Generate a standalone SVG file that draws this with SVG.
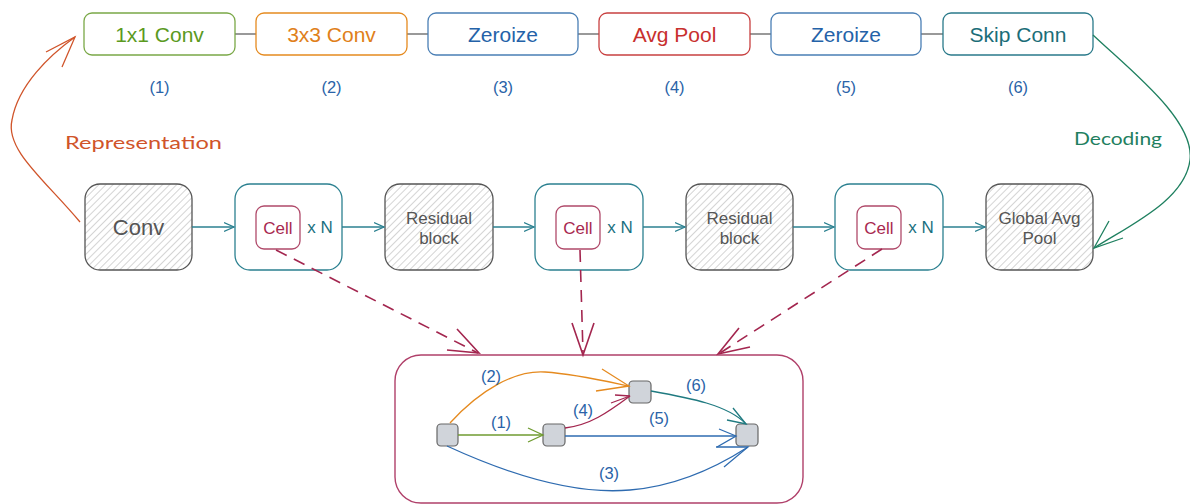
<svg xmlns="http://www.w3.org/2000/svg" width="1190" height="504" viewBox="0 0 1190 504">
  <style>
    text { font-family: "Liberation Sans", Arial, sans-serif; text-anchor: middle; dominant-baseline: central; }
    .op { fill: #fff; stroke-width: 1.3; }
    .op-text { font-size: 21px; }
    .idx { font-size: 16.5px; fill: #2a63a8; }
    .hatched { fill: url(#hatch); stroke: #555; stroke-width: 1.3; }
    .gray-text { fill: #555; }
    .stack { fill: #fff; stroke: #2b8090; stroke-width: 1.3; }
    .cell { fill: #fff; stroke: #b04a6a; stroke-width: 1.3; }
    .cell-text { fill: #a8284f; font-size: 17px; }
    .xn { fill: #1a7080; font-size: 17px; }
    .flow { fill: none; stroke: #2b8090; stroke-width: 1.3; marker-end: url(#arrowTeal); }
    .link { stroke: #777; stroke-width: 1.5; }
    .dash { fill: none; stroke: #a3264f; stroke-width: 1.6; stroke-dasharray: 12 8; }
    .node { fill: #d0d4da; stroke: #666; stroke-width: 1.2; }
    .edge { fill: none; stroke-width: 1.3; }
    .hand { font-family: "Lato", "Liberation Sans", sans-serif; font-size: 18px; text-anchor: start; }
  </style>
  <defs>
    <pattern id="hatch" patternUnits="userSpaceOnUse" width="5" height="5" patternTransform="rotate(45)">
      <rect width="5" height="5" fill="#fff"/>
      <line x1="0" y1="0" x2="0" y2="5" stroke="#b8b8b8" stroke-width="1.2"/>
    </pattern>
    <marker id="arrowTeal" markerUnits="userSpaceOnUse" markerWidth="12" markerHeight="12" refX="10" refY="6" orient="auto">
      <path d="M0,1.5 L10,6 L0,10.5" fill="none" stroke="#2b8090" stroke-width="1.3"/>
    </marker>
  </defs>

  <!-- operation palette -->
  <g id="ops-links">
    <line class="link" x1="235" y1="34" x2="256" y2="34"/>
    <line class="link" x1="407" y1="34" x2="428" y2="34"/>
    <line class="link" x1="578" y1="34" x2="599" y2="34"/>
    <line class="link" x1="750" y1="34" x2="771" y2="34"/>
    <line class="link" x1="921" y1="34" x2="943" y2="34"/>
  </g>
  <g id="op-1x1">
    <rect class="op" x="84" y="13" width="151" height="42" rx="8" stroke="#7aa847"/>
    <text class="op-text" x="159.5" y="34" fill="#5b9a1f">1x1 Conv</text>
    <text class="idx" x="159.5" y="87">(1)</text>
  </g>
  <g id="op-3x3">
    <rect class="op" x="256" y="13" width="151" height="42" rx="8" stroke="#e58a1f"/>
    <text class="op-text" x="331.5" y="34" fill="#e0801a">3x3 Conv</text>
    <text class="idx" x="331.5" y="87">(2)</text>
  </g>
  <g id="op-zero-a">
    <rect class="op" x="428" y="13" width="150" height="42" rx="8" stroke="#4a7fb5"/>
    <text class="op-text" x="503" y="34" fill="#2462a8">Zeroize</text>
    <text class="idx" x="503" y="87">(3)</text>
  </g>
  <g id="op-avg">
    <rect class="op" x="599" y="13" width="151" height="42" rx="8" stroke="#c84040"/>
    <text class="op-text" x="674.5" y="34" fill="#c8302e">Avg Pool</text>
    <text class="idx" x="674.5" y="87">(4)</text>
  </g>
  <g id="op-zero-b">
    <rect class="op" x="771" y="13" width="150" height="42" rx="8" stroke="#4a7fb5"/>
    <text class="op-text" x="846" y="34" fill="#2462a8">Zeroize</text>
    <text class="idx" x="846" y="87">(5)</text>
  </g>
  <g id="op-skip">
    <rect class="op" x="943" y="13" width="150" height="42" rx="8" stroke="#2a7a8a"/>
    <text class="op-text" x="1018" y="34" fill="#1b6d78">Skip Conn</text>
    <text class="idx" x="1018" y="87">(6)</text>
  </g>

  <!-- network backbone -->
  <g id="conv">
    <rect class="hatched" x="85" y="184" width="107" height="86" rx="15"/>
    <text class="gray-text" x="138.5" y="227" font-size="22">Conv</text>
  </g>
  <g id="stack-1">
    <rect class="stack" x="235" y="184" width="107" height="86" rx="15"/>
    <rect class="cell" x="256" y="206" width="44" height="43" rx="8"/>
    <text class="cell-text" x="278" y="228">Cell</text>
    <text class="xn" x="320" y="227">x N</text>
  </g>
  <g id="residual-1">
    <rect class="hatched" x="385" y="184" width="108" height="86" rx="15"/>
    <text class="gray-text" x="439" y="218" font-size="17">Residual</text>
    <text class="gray-text" x="439" y="238" font-size="17">block</text>
  </g>
  <g id="stack-2">
    <rect class="stack" x="535" y="184" width="108" height="86" rx="15"/>
    <rect class="cell" x="556" y="206" width="44" height="43" rx="8"/>
    <text class="cell-text" x="578" y="228">Cell</text>
    <text class="xn" x="620" y="227">x N</text>
  </g>
  <g id="residual-2">
    <rect class="hatched" x="686" y="184" width="107" height="86" rx="15"/>
    <text class="gray-text" x="739.5" y="218" font-size="17">Residual</text>
    <text class="gray-text" x="739.5" y="238" font-size="17">block</text>
  </g>
  <g id="stack-3">
    <rect class="stack" x="835" y="184" width="108" height="86" rx="15"/>
    <rect class="cell" x="857" y="206" width="44" height="43" rx="8"/>
    <text class="cell-text" x="879" y="228">Cell</text>
    <text class="xn" x="921" y="227">x N</text>
  </g>
  <g id="global-pool">
    <rect class="hatched" x="986" y="184" width="107" height="86" rx="15"/>
    <text class="gray-text" x="1039.5" y="218" font-size="17">Global Avg</text>
    <text class="gray-text" x="1039.5" y="238" font-size="17">Pool</text>
  </g>

  <!-- cell detail -->
  <g id="cell-detail">
    <rect x="395" y="355" width="408" height="148" rx="26" fill="none" stroke="#b0406a" stroke-width="1.4"/>
    <rect class="node" x="437" y="424" width="21" height="22" rx="4"/>
    <rect class="node" x="543" y="424" width="22" height="22" rx="4"/>
    <rect class="node" x="629" y="381" width="22" height="22" rx="4"/>
    <rect class="node" x="736" y="424" width="22" height="22" rx="4"/>
  </g>

  <g id="connectors">
    <!-- backbone flow -->
    <line class="flow" x1="192" y1="227" x2="234" y2="227"/>
    <line class="flow" x1="342" y1="227" x2="384" y2="227"/>
    <line class="flow" x1="493" y1="227" x2="534" y2="227"/>
    <line class="flow" x1="643" y1="227" x2="685" y2="227"/>
    <line class="flow" x1="793" y1="227" x2="834" y2="227"/>
    <line class="flow" x1="943" y1="227" x2="985" y2="227"/>

    <!-- cell expansions -->
    <g stroke="#a3264f" stroke-width="1.6" fill="none">
      <line class="dash" x1="276" y1="250" x2="478" y2="353"/>
      <path d="M457,329 L479,353 L447,350"/>
      <line class="dash" x1="580" y1="250" x2="583" y2="353"/>
      <path d="M572,323 L583,355 L594,323"/>
      <line class="dash" x1="882" y1="249" x2="720" y2="353"/>
      <path d="M739,328 L718,354 L750,347"/>
    </g>

    <!-- representation / decoding -->
    <g stroke="#d0542a" stroke-width="1.3" fill="none">
      <path d="M80,222 C45,180 5,150 12,120 C18,85 50,55 75,37"/>
      <path d="M46,52 L75,37 L62,67"/>
    </g>
    <g stroke="#1f8060" stroke-width="1.3" fill="none">
      <path d="M1093,35 C1130,70 1195,120 1190,160 C1185,200 1130,225 1094,248"/>
      <path d="M1109,221 L1094,248 L1123,238"/>
    </g>

    <!-- cell edges -->
    <g class="edge">
      <path d="M458,435 L543,435" stroke="#6f9b30"/>
      <path d="M528,428 L543,435 L528,442" stroke="#6f9b30"/>

      <path d="M450,423 C480,390 515,370 545,372 C575,374 605,381 629,386" stroke="#e58a1f"/>
      <path d="M602,369 L629,386 L596,391" stroke="#e58a1f"/>

      <path d="M447,446 C510,475 575,495 630,490 C680,486 720,465 748,447" stroke="#2e6bb0"/>
      <path d="M716,447 L748,447 L724,467" stroke="#2e6bb0"/>

      <path d="M565,428 C590,425 607,413 630,396" stroke="#a3264f"/>
      <path d="M611,403 L630,396 L615,395" stroke="#a3264f"/>

      <path d="M565,436 L736,436" stroke="#2e6bb0"/>
      <path d="M719,429 L736,436 L717,447" stroke="#2e6bb0"/>

      <path d="M651,391 C690,398 728,405 746,424" stroke="#1f7a80"/>
      <path d="M733,408 L746,424 L727,420" stroke="#1f7a80"/>
    </g>
  </g>

  <!-- labels -->
  <g id="labels">
    <text class="hand" x="65" y="142" fill="#d0542a" textLength="157" lengthAdjust="spacingAndGlyphs">Representation</text>
    <text class="hand" x="1074" y="138" fill="#1f8060" textLength="88" lengthAdjust="spacingAndGlyphs">Decoding</text>
    <text class="idx" x="491" y="376">(2)</text>
    <text class="idx" x="501" y="422">(1)</text>
    <text class="idx" x="583" y="410">(4)</text>
    <text class="idx" x="659" y="418">(5)</text>
    <text class="idx" x="696" y="385">(6)</text>
    <text class="idx" x="609" y="473">(3)</text>
  </g>
</svg>
